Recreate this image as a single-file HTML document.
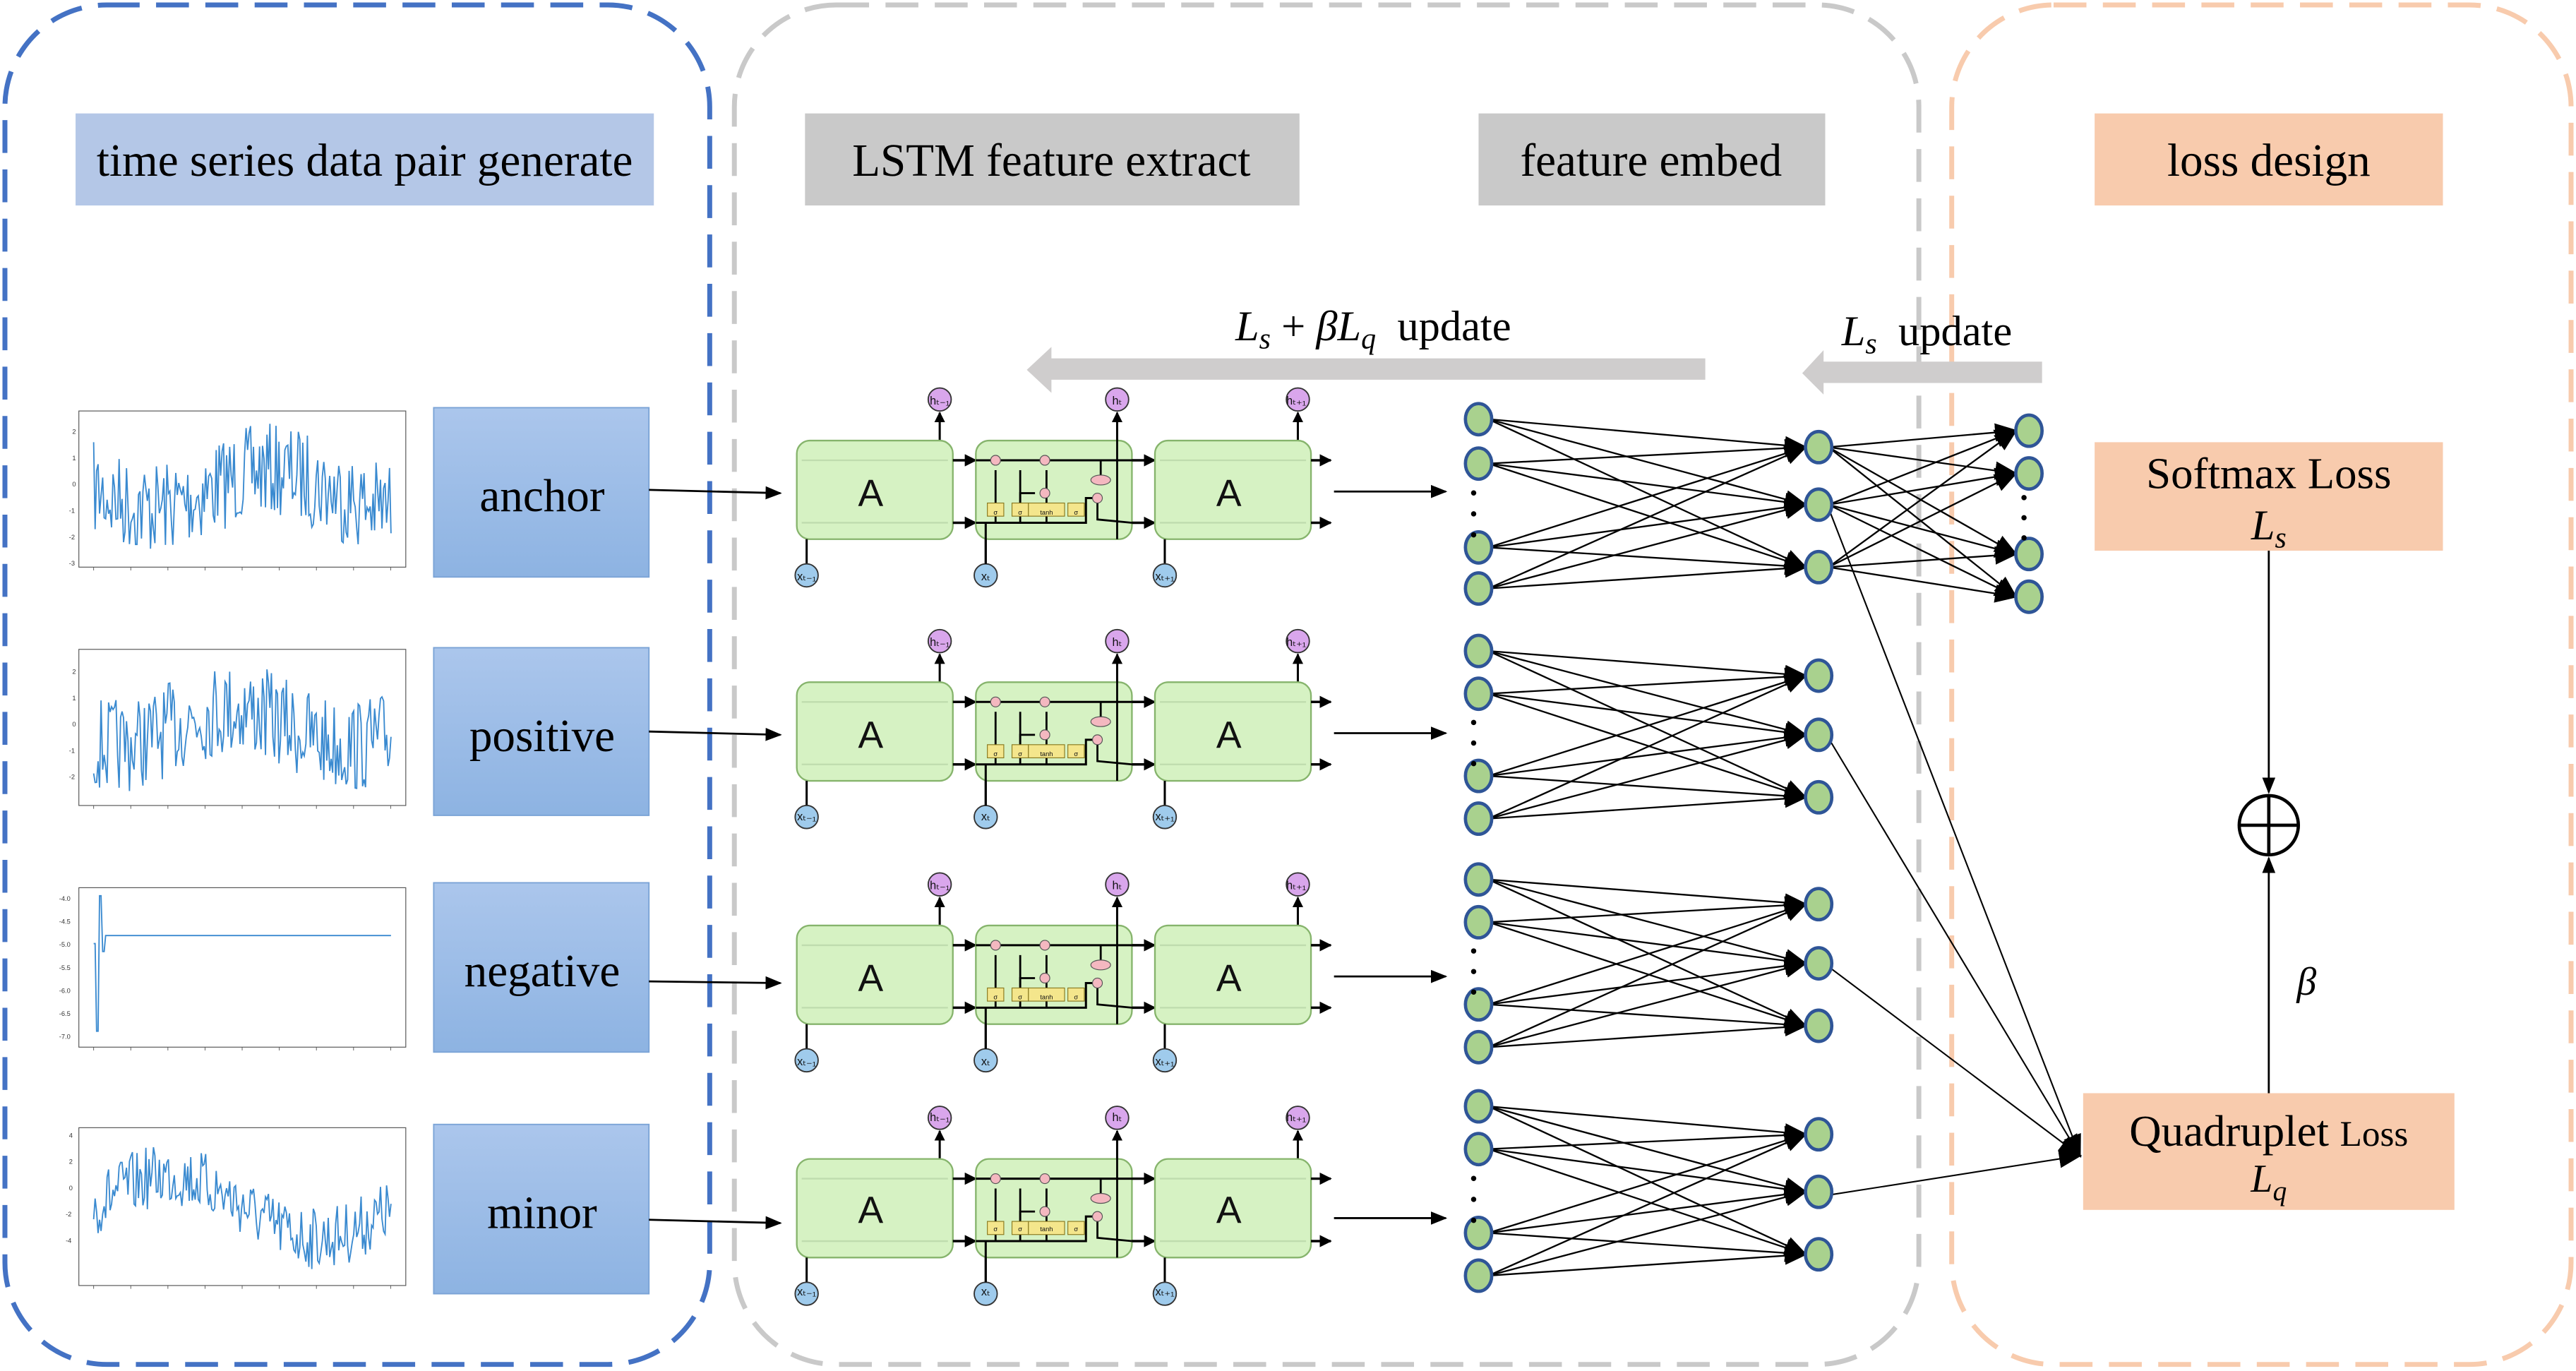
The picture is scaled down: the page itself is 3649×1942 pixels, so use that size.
<!DOCTYPE html>
<html><head><meta charset="utf-8"><style>
html,body{margin:0;padding:0;background:#fff;}
svg{display:block;}
.t{font-family:"Liberation Serif",serif;fill:#000;}
.s{font-family:"Liberation Sans",sans-serif;}
</style></head><body>
<svg id="svg" width="3649" height="1942" viewBox="0 0 1568 834" preserveAspectRatio="none" xmlns="http://www.w3.org/2000/svg">
<defs>
<marker id="ar" viewBox="0 0 10 10" refX="9" refY="5" markerWidth="5" markerHeight="5" orient="auto"><path d="M0,0L10,5L0,10z" fill="#000"/></marker>
<marker id="ar2" viewBox="0 0 10 10" refX="9" refY="5" markerWidth="10" markerHeight="10" orient="auto" markerUnits="userSpaceOnUse"><path d="M0,1L10,5L0,9z" fill="#000"/></marker>
<marker id="ar3" viewBox="0 0 10 10" refX="9" refY="5" markerWidth="14" markerHeight="14" orient="auto" markerUnits="userSpaceOnUse"><path d="M0,1L10,5L0,9z" fill="#000"/></marker>
<linearGradient id="bg" x1="0" y1="0" x2="0" y2="1"><stop offset="0" stop-color="#abc6ec"/><stop offset="1" stop-color="#8db3e2"/></linearGradient>
</defs>
<rect x="3" y="3" width="429" height="827" rx="62" fill="none" stroke="#4472c4" stroke-width="3" stroke-dasharray="20 10"/>
<rect x="447" y="3" width="721" height="827" rx="62" fill="none" stroke="#c9c9c9" stroke-width="3" stroke-dasharray="20 10"/>
<rect x="1188" y="3" width="377" height="827" rx="62" fill="none" stroke="#f8cbad" stroke-width="3" stroke-dasharray="20 10"/>
<rect x="46" y="69" width="352" height="56" fill="#b4c7e7"/>
<text class="t" x="222" y="107" font-size="28" text-anchor="middle">time series data pair generate</text>
<rect x="490" y="69" width="301" height="56" fill="#c9c9c9"/>
<text class="t" x="640" y="107" font-size="28" text-anchor="middle">LSTM feature extract</text>
<rect x="900" y="69" width="211" height="56" fill="#c9c9c9"/>
<text class="t" x="1005" y="107" font-size="28" text-anchor="middle">feature embed</text>
<rect x="1275" y="69" width="212" height="56" fill="#f8cbad"/>
<text class="t" x="1381" y="107" font-size="28" text-anchor="middle">loss design</text>
<path d="M1038,218 L640,218 L640,211 L625,225 L640,239 L640,231 L1038,231 z" fill="#cfcdcd"/>
<text class="t" x="752" y="207" font-size="26" font-style="italic">L<tspan font-size="18" dy="5">s</tspan><tspan dy="-5" font-style="normal"> + </tspan>βL<tspan font-size="18" dy="5">q</tspan><tspan dy="-5" font-style="normal">&#160;&#160;update</tspan></text>
<path d="M1243,220 L1110,220 L1110,213 L1097,227 L1110,240 L1110,233 L1243,233 z" fill="#cfcdcd"/>
<text class="t" x="1121" y="210" font-size="26" font-style="italic">L<tspan font-size="18" dy="5">s</tspan><tspan dy="-5" font-style="normal">&#160;&#160;update</tspan></text>
<rect x="264" y="248" width="131" height="103" fill="url(#bg)" stroke="#7aa3d6" stroke-width="0.8"/>
<text class="t" x="330" y="311" font-size="28" text-anchor="middle">anchor</text>
<rect x="264" y="394" width="131" height="102" fill="url(#bg)" stroke="#7aa3d6" stroke-width="0.8"/>
<text class="t" x="330" y="457" font-size="28" text-anchor="middle">positive</text>
<rect x="264" y="537" width="131" height="103" fill="url(#bg)" stroke="#7aa3d6" stroke-width="0.8"/>
<text class="t" x="330" y="600" font-size="28" text-anchor="middle">negative</text>
<rect x="264" y="684" width="131" height="103" fill="url(#bg)" stroke="#7aa3d6" stroke-width="0.8"/>
<text class="t" x="330" y="747" font-size="28" text-anchor="middle">minor</text>
<g stroke="#000" stroke-width="1.2" marker-end="url(#ar2)">
<line x1="395" y1="298" x2="475" y2="300"/>
<line x1="395" y1="445" x2="475" y2="447"/>
<line x1="395" y1="597" x2="475" y2="598"/>
<line x1="395" y1="742" x2="475" y2="744"/>
<line x1="812" y1="299" x2="880" y2="299"/>
<line x1="812" y1="446" x2="880" y2="446"/>
<line x1="812" y1="594" x2="880" y2="594"/>
<line x1="812" y1="741" x2="880" y2="741"/>
</g>
<g class="s" font-size="4" fill="#333">
<text x="44" y="264">2</text><text x="44" y="280">1</text><text x="44" y="296">0</text><text x="42" y="312">-1</text><text x="42" y="328">-2</text><text x="42" y="344">-3</text>
<text x="44" y="410">2</text><text x="44" y="426">1</text><text x="44" y="442">0</text><text x="42" y="458">-1</text><text x="42" y="474">-2</text>
<text x="36" y="548">-4.0</text><text x="36" y="562">-4.5</text><text x="36" y="576">-5.0</text><text x="36" y="590">-5.5</text><text x="36" y="604">-6.0</text><text x="36" y="618">-6.5</text><text x="36" y="632">-7.0</text>
<text x="42" y="692">4</text><text x="42" y="708">2</text><text x="42" y="724">0</text><text x="40" y="740">-2</text><text x="40" y="756">-4</text>
</g>
<g id="charts"></g>
<g id="cells"></g>
<g id="net"></g>
<rect x="1275" y="269" width="212" height="66" fill="#f8cbad"/>
<text class="t" x="1381" y="297" font-size="27" text-anchor="middle">Softmax Loss</text>
<text class="t" x="1381" y="328" font-size="26" text-anchor="middle" font-style="italic">L<tspan font-size="18" dy="5">s</tspan></text>
<rect x="1268" y="665" width="226" height="71" fill="#f8cbad"/>
<text class="t" x="1381" y="697" font-size="27" text-anchor="middle">Quadruplet <tspan font-size="22">Loss</tspan></text>
<text class="t" x="1381" y="725" font-size="24" text-anchor="middle" font-style="italic">L<tspan font-size="17" dy="5">q</tspan></text>
<line x1="1381" y1="335" x2="1381" y2="482" stroke="#000" stroke-width="1.2" marker-end="url(#ar2)"/>
<line x1="1381" y1="665" x2="1381" y2="522" stroke="#000" stroke-width="1.2" marker-end="url(#ar2)"/>
<circle cx="1381" cy="502" r="18" fill="none" stroke="#000" stroke-width="2"/>
<line x1="1363" y1="502" x2="1399" y2="502" stroke="#000" stroke-width="2"/>
<line x1="1381" y1="484" x2="1381" y2="520" stroke="#000" stroke-width="2"/>
<text class="t" x="1404" y="605" font-size="24" text-anchor="middle" font-style="italic">β</text>
<g class="s" font-size="23" text-anchor="middle" fill="#111">
<text x="530" y="308">A</text><text x="748" y="308">A</text>
<text x="530" y="455">A</text><text x="748" y="455">A</text>
<text x="530" y="603">A</text><text x="748" y="603">A</text>
<text x="530" y="744">A</text><text x="748" y="744">A</text>
</g>
<g class="s" font-size="7" text-anchor="middle" fill="#111">
<text x="572" y="246">hₜ₋₁</text><text x="680" y="246">hₜ</text><text x="789" y="246">hₜ₊₁</text>
<text x="491" y="353">xₜ₋₁</text><text x="600" y="353">xₜ</text><text x="709" y="353">xₜ₊₁</text>
<text x="572" y="393">hₜ₋₁</text><text x="680" y="393">hₜ</text><text x="789" y="393">hₜ₊₁</text>
<text x="491" y="499">xₜ₋₁</text><text x="600" y="499">xₜ</text><text x="709" y="499">xₜ₊₁</text>
<text x="572" y="541">hₜ₋₁</text><text x="680" y="541">hₜ</text><text x="789" y="541">hₜ₊₁</text>
<text x="491" y="648">xₜ₋₁</text><text x="600" y="648">xₜ</text><text x="709" y="648">xₜ₊₁</text>
<text x="572" y="682">hₜ₋₁</text><text x="680" y="682">hₜ</text><text x="789" y="682">hₜ₊₁</text>
<text x="491" y="788">xₜ₋₁</text><text x="600" y="788">xₜ</text><text x="709" y="788">xₜ₊₁</text>
</g>
<g class="s" font-size="4" text-anchor="middle" fill="#111">
<text x="606" y="313">σ</text><text x="621" y="313">σ</text><text x="637" y="313">tanh</text><text x="655" y="313">σ</text>
<text x="606" y="460">σ</text><text x="621" y="460">σ</text><text x="637" y="460">tanh</text><text x="655" y="460">σ</text>
<text x="606" y="608">σ</text><text x="621" y="608">σ</text><text x="637" y="608">tanh</text><text x="655" y="608">σ</text>
<text x="606" y="749">σ</text><text x="621" y="749">σ</text><text x="637" y="749">tanh</text><text x="655" y="749">σ</text>
</g>
</svg>
<script>
const NS="http://www.w3.org/2000/svg";
function el(p,tag,a){const e=document.createElementNS(NS,tag);for(const k in a)e.setAttribute(k,a[k]);p.appendChild(e);return e;}
const ch=document.getElementById('charts');
let seed=7;function rnd(){seed=(seed*16807)%2147483647;return seed/2147483647;}
const charts=[[250,345,'noise'],[395,490,'noise'],[540,637,'neg'],[686,782,'wave']];
charts.forEach(([y0,y1,k],ci)=>{
 el(ch,'rect',{x:48,y:y0,width:199,height:y1-y0,fill:'#fff',stroke:'#555','stroke-width':0.5});
 const x0=57,x1=238;let pts=[];const h=y1-y0;
 for(let i=0;i<200;i++){
  const x=x0+(x1-x0)*i/199;let v;
  if(k==='noise'){v=0.5+0.12*Math.sin(i/25+ci)+(rnd()-0.5)*0.6;}
  else if(k==='wave'){v=0.5-0.2*Math.sin(i/32)+(rnd()-0.5)*0.4;}
  else{ if(i<2)v=0.35;else if(i<4)v=0.9;else if(i<6)v=0.05;else if(i<8)v=0.4;else v=0.3;}
  v=Math.max(0.03,Math.min(0.97,v));pts.push(x.toFixed(1)+','+(y0+h*v).toFixed(1));
 }
 el(ch,'polyline',{points:pts.join(' '),fill:'none',stroke:'#3a8ad0','stroke-width':0.8});
 for(let j=0;j<9;j++){el(ch,'line',{x1:57+j*22.6,y1:y1,x2:57+j*22.6,y2:y1+2,stroke:'#555','stroke-width':0.4});}
});
const cells=document.getElementById('cells');
[268,415,563,705].forEach(t=>{
 const g=el(cells,'g',{});
 [485,594,703].forEach((bx,i)=>{
  const hx=bx+(i==1?86:87);
  el(g,'line',{x1:hx,y1:t,x2:hx,y2:t-17,stroke:'#000','stroke-width':1.3,'marker-end':'url(#ar)'});
  el(g,'rect',{x:bx,y:t,width:95,height:60,rx:8,fill:'#d6f2c3',stroke:'#86b46c','stroke-width':1});
  el(g,'circle',{cx:hx,cy:t-25,r:7,fill:'#d9a6ec',stroke:'#333','stroke-width':0.8});
  el(g,'line',{x1:bx+6,y1:t+60,x2:bx+6,y2:t+75,stroke:'#000','stroke-width':1.3});
  el(g,'circle',{cx:bx+6,cy:t+82,r:7,fill:'#9fcbec',stroke:'#333','stroke-width':0.8});
  const ax=bx+95;const ex=i==2?810:bx+109;
  el(g,'line',{x1:ax,y1:t+12,x2:ex,y2:t+12,stroke:'#000','stroke-width':1.5,'marker-end':'url(#ar)'});
  el(g,'line',{x1:ax,y1:t+50,x2:ex,y2:t+50,stroke:'#000','stroke-width':1.5,'marker-end':'url(#ar)'});
  if(i!=1){el(g,'line',{x1:bx+3,y1:t+12,x2:bx+92,y2:t+12,stroke:'#bfdcae','stroke-width':1});
   el(g,'line',{x1:bx+3,y1:t+50,x2:bx+92,y2:t+50,stroke:'#bfdcae','stroke-width':1});}
 });
 const k='#000';
 el(g,'line',{x1:594,y1:t+12,x2:689,y2:t+12,stroke:k,'stroke-width':1.3});
 el(g,'path',{d:`M594,${t+50} L661,${t+50} L661,${t+35} L665,${t+35} M600,${t+75} L600,${t+50}`,fill:'none',stroke:k,'stroke-width':1.3});
 [606,621,637].forEach(x=>el(g,'line',{x1:x,y1:t+50,x2:x,y2:t+18,stroke:k,'stroke-width':1.2}));
 el(g,'path',{d:`M621,${t+40} L621,${t+32} L630,${t+32} M668,${t+35} L668,${t+48} L689,${t+50} M670,${t+12} L670,${t+25} M680,${t+60} L680,${t-10}`,fill:'none',stroke:k,'stroke-width':1.2});
 [[606,5],[621,5],[637,11],[655,5]].forEach(([x,w])=>el(g,'rect',{x:x-w,y:t+38,width:2*w,height:8,fill:'#f4e68c',stroke:'#8a7a20','stroke-width':0.5}));
 [[606,12],[636,12],[636,32],[668,35]].forEach(([x,y])=>el(g,'circle',{cx:x,cy:t+y,r:3,fill:'#f4b8c0',stroke:'#555','stroke-width':0.5}));
 el(g,'ellipse',{cx:670,cy:t+24,rx:6,ry:3,fill:'#f4b8c0',stroke:'#555','stroke-width':0.5});
});
const net=document.getElementById('net');
const L=[[255,282,333,358],[396,422,472,498],[535,561,611,637],[673,699,750,776]];
const M=[[272,307,345],[411,447,485],[550,586,624],[690,725,763]];
const R=[262,288,337,363];
L.forEach((ls,r)=>{
 ls.forEach(a=>M[r].forEach(b=>el(net,'line',{x1:906,y1:a,x2:1099,y2:b,stroke:'#000','stroke-width':1,'marker-end':'url(#ar3)'})));
});
M[0].forEach(a=>R.forEach(b=>el(net,'line',{x1:1113,y1:a,x2:1227,y2:b,stroke:'#000','stroke-width':1,'marker-end':'url(#ar3)'})));
M.forEach(m=>el(net,'line',{x1:1113,y1:m[1]+2,x2:1266,y2:703,stroke:'#000','stroke-width':0.9,'marker-end':'url(#ar3)'}));
function node(x,y){el(net,'ellipse',{cx:x,cy:y,rx:8,ry:9.5,fill:'#a9d18e',stroke:'#2f5597','stroke-width':2});}
L.forEach(ls=>{ls.forEach(y=>node(900,y));[0.35,0.6,0.85].forEach(f=>el(net,'circle',{cx:897,cy:ls[1]+(ls[2]-ls[1])*f,r:1.6,fill:'#000'}));});
M.forEach(m=>m.forEach(y=>node(1107,y)));
R.forEach(y=>node(1235,y));
[0.3,0.55,0.8].forEach(f=>el(net,'circle',{cx:1232,cy:288+49*f,r:1.6,fill:'#000'}));
</script>
</body></html>
